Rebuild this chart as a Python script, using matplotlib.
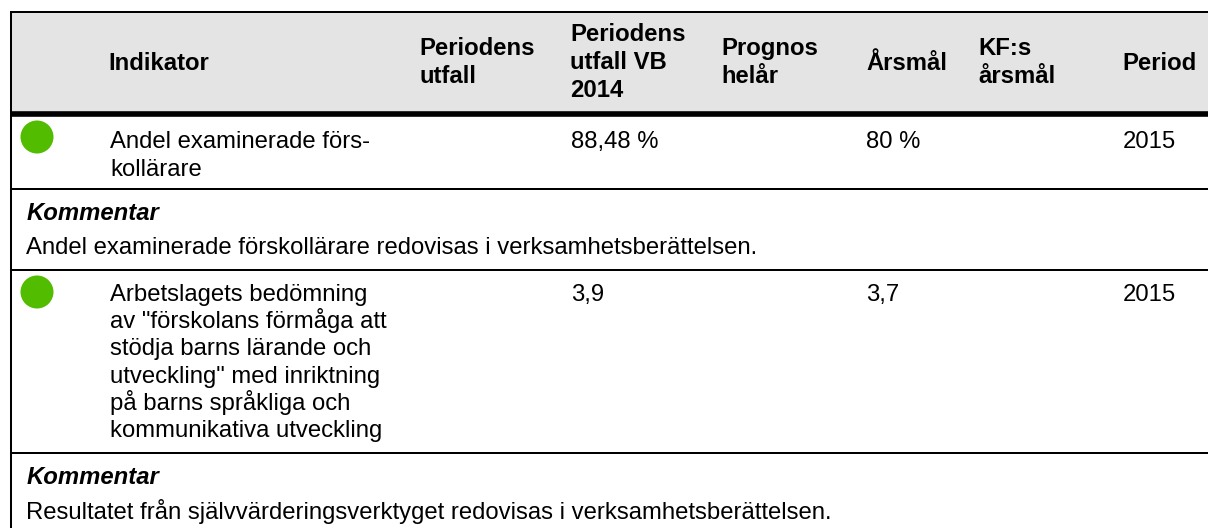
import matplotlib
matplotlib.use("Agg")
import matplotlib.pyplot as plt
from matplotlib.patches import Rectangle, Ellipse

plt.rcParams['font.family'] = ['Liberation Sans', 'DejaVu Sans']

headers = [(["Indikator"], 108.5, [70]),
           (["Periodens", "utfall"], 419.5, [55, 83]),
           (["Periodens", "utfall VB", "2014"], 570.5, [41, 69, 97]),
           (["Prognos", "helår"], 721.5, [55, 83]),
           (["Årsmål"], 866, [70]),
           (["KF:s", "årsmål"], 978.5, [55, 83]),
           (["Period"], 1122, [70])]
row1_lines = ["Andel examinerade förs-", "kollärare"]
row2_lines = ["Arbetslagets bedömning", "av \"förskolans förmåga att", "stödja barns lärande och",
              "utveckling\" med inriktning", "på barns språkliga och", "kommunikativa utveckling"]
row_vals = [("88,48 %", 571, 148), ("80 %", 866, 148), ("2015", 1123, 148),
            ("3,9", 571, 301), ("3,7", 866, 301), ("2015", 1123, 301)]
comments = [("Kommentar", "Andel examinerade förskollärare redovisas i verksamhetsberättelsen.", 220, 254),
            ("Kommentar", "Resultatet från självvärderingsverktyget redovisas i verksamhetsberättelsen.", 484, 519.5)]
lights = [(37, 137), (37, 292)]
rules = [(12, 2.0), (113.8, 5.6), (188.5, 2.0), (269.5, 2.0), (452.5, 2.0)]

FS = 17.17
PITCH = 27.2
fig = plt.figure(figsize=(12.08, 5.28), dpi=100)
ax = fig.add_axes([0, 0, 1, 1])
ax.set_xlim(0, 1208)
ax.set_ylim(528, 0)
ax.axis('off')

ax.add_patch(Rectangle((11, 12), 1197, 100, fc='#e4e4e4', ec='none', zorder=1))
for y, lw in rules:
    ax.plot([11, 1208], [y, y], color='black', lw=lw * 0.72, solid_capstyle='butt', zorder=3)
ax.plot([11, 11], [11, 528], color='black', lw=1.45, solid_capstyle='butt', zorder=3)

for lines, x, ys in headers:
    for t, y in zip(lines, ys):
        ax.text(x, y, t, fontsize=FS, fontweight='bold', ha='left', va='baseline', color='black')
for i, t in enumerate(row1_lines):
    ax.text(110, 148 + i * 27.5, t, fontsize=FS, ha='left', va='baseline', color='black')
for i, t in enumerate(row2_lines):
    ax.text(110, 301 + i * PITCH, t, fontsize=FS, ha='left', va='baseline', color='black')
for t, x, y in row_vals:
    ax.text(x, y, t, fontsize=FS, ha='left', va='baseline', color='black')
for head, body, y1, y2 in comments:
    ax.text(26.5, y1, head, fontsize=FS, fontweight='bold', fontstyle='italic', ha='left', va='baseline', color='black')
    ax.text(25.5, y2, body, fontsize=FS, ha='left', va='baseline', color='black')
for x, y in lights:
    ax.add_patch(Ellipse((x, y), 33, 33, fc='#52bd00', ec='none', zorder=4))

fig.savefig('out.png', dpi=100)
